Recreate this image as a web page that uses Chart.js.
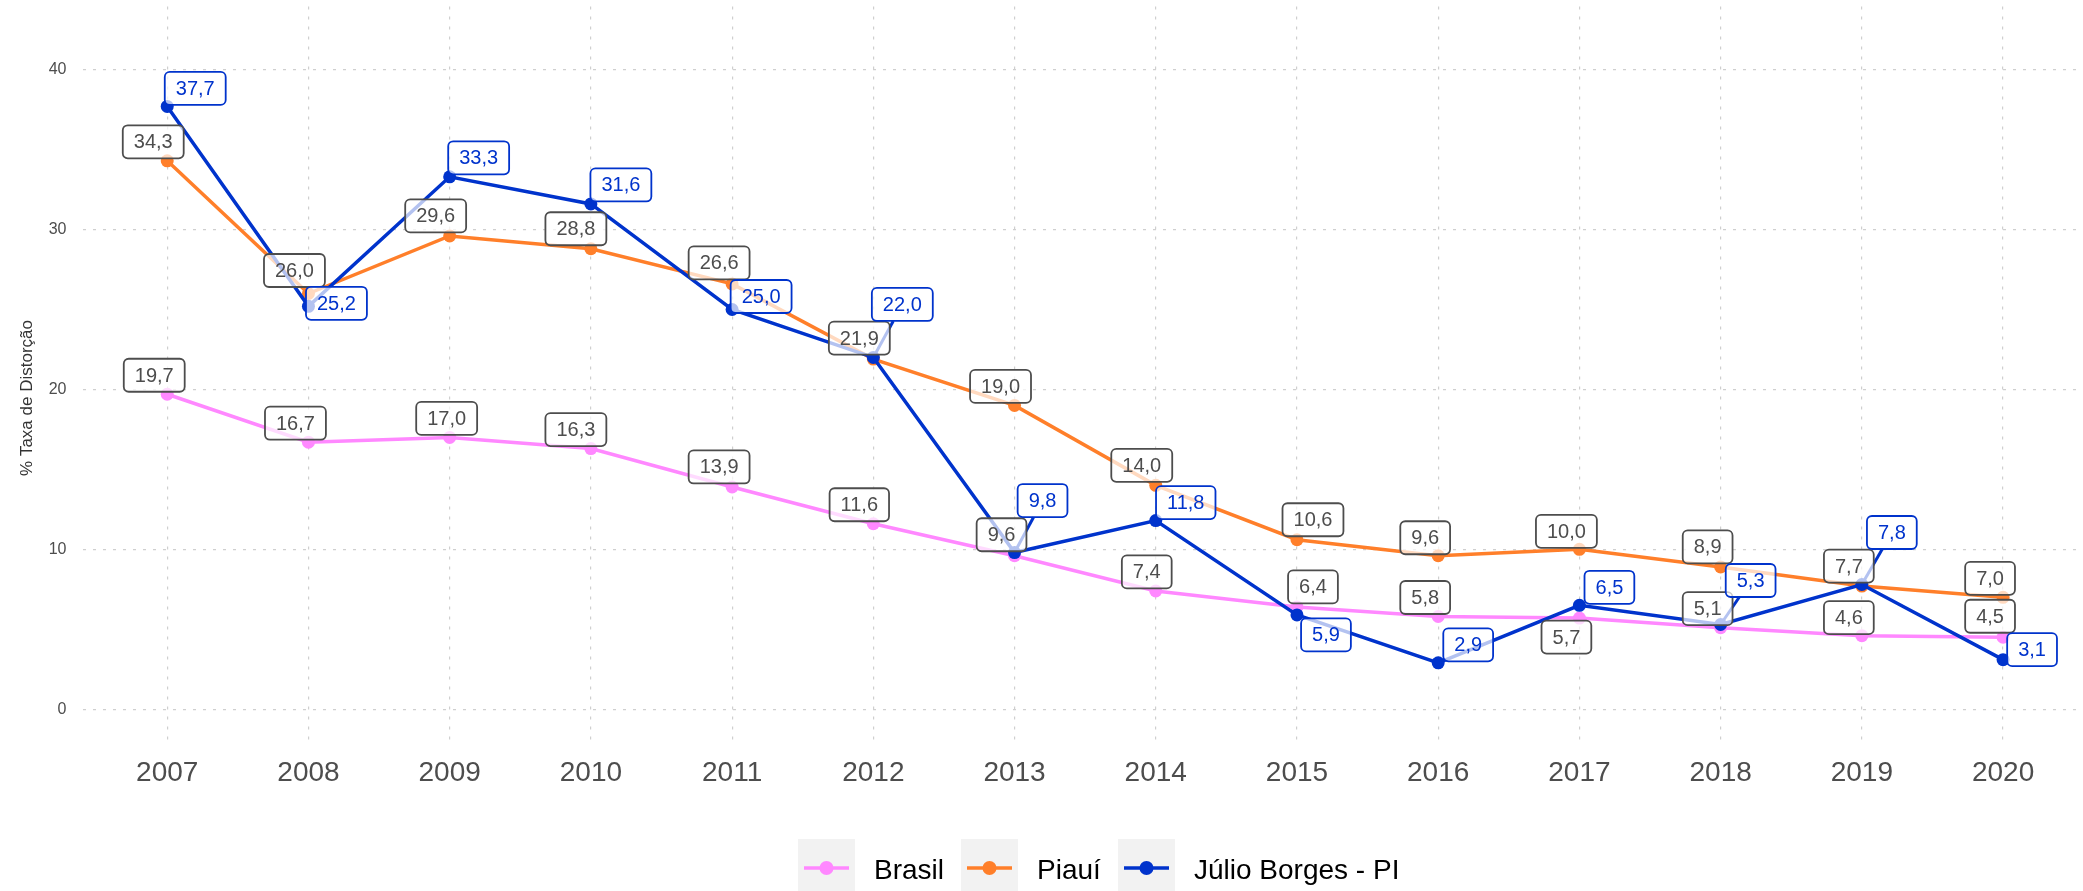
<!DOCTYPE html>
<html>
<head>
<meta charset="utf-8">
<title>Taxa de Distorção Idade-Série</title>
<script src="https://cdn.jsdelivr.net/npm/chart.js@4.4.1/dist/chart.umd.min.js"></script>
<style>
  html, body { margin: 0; padding: 0; background: #fff; }
  #chart { display: block; }
</style>
</head>
<body>
<canvas id="chart" width="2083" height="891"></canvas>
<script>
const years = ['2007', '2008', '2009', '2010', '2011', '2012', '2013',
               '2014', '2015', '2016', '2017', '2018', '2019', '2020'];
const brasil = [19.7, 16.7, 17.0, 16.3, 13.9, 11.6, 9.6, 7.4, 6.4, 5.8, 5.7, 5.1, 4.6, 4.5];
const piaui = [34.3, 26.0, 29.6, 28.8, 26.6, 21.9, 19.0, 14.0, 10.6, 9.6, 10.0, 8.9, 7.7, 7.0];
const julio = [37.7, 25.2, 33.3, 31.6, 25.0, 22.0, 9.8, 11.8, 5.9, 2.9, 6.5, 5.3, 7.8, 3.1];
const yTicks = [0, 10, 20, 30, 40];

// where each value label sits relative to its point (px)
const brasilNudge = [[-13, -19], [-13, -19], [-3, -19], [-15, -19], [-13, -20], [-14, -19], [-13, -21],
                     [-9, -19], [16, -20], [-13, -19], [-13, 19], [-13, -19], [-13, -18], [-13, -21]];
const piauiNudge = [[-14, -19], [-14, -23], [-14, -20], [-15, -20], [-13, -21], [-14, -21], [-14, -19],
                    [-14, -20], [16, -20], [-13, -18], [-13, -18], [-13, -20], [-13, -20], [-13, -19]];
const julioNudge = [[28, -18], [28, -3], [29, -19], [30, -19], [29, -13], [29, -53], [28, -52],
                    [30, -18], [29, 20], [30, -18], [30, -18], [30, -44], [30, -52], [29, -10]];

const PINK = '#FF88FF';
const ORANGE = '#FF7F2A';
const BLUE = '#0033CC';
const GRAY_TEXT = '#4D4D4D';
const FONT = '"Liberation Sans", Arial, Helvetica, sans-serif';

const series = [
  { name: 'Brasil', values: brasil, color: PINK, labelColor: GRAY_TEXT, nudge: brasilNudge, order: 3 },
  { name: 'Piauí', values: piaui, color: ORANGE, labelColor: GRAY_TEXT, nudge: piauiNudge, order: 2 },
  { name: 'Júlio Borges - PI', values: julio, color: BLUE, labelColor: BLUE, nudge: julioNudge, order: 1 }
];

function fmt(v) {
  return v.toFixed(1).replace('.', ',');
}

function roundRect(ctx, x, y, w, h, r) {
  ctx.beginPath();
  ctx.moveTo(x + r, y);
  ctx.lineTo(x + w - r, y);
  ctx.arcTo(x + w, y, x + w, y + r, r);
  ctx.lineTo(x + w, y + h - r);
  ctx.arcTo(x + w, y + h, x + w - r, y + h, r);
  ctx.lineTo(x + r, y + h);
  ctx.arcTo(x, y + h, x, y + h - r, r);
  ctx.lineTo(x, y + r);
  ctx.arcTo(x, y, x + r, y, r);
  ctx.closePath();
}

// no extra room around the scales, the plot fills the canvas edge to edge
function noPadding(scale) {
  scale.paddingTop = 0;
  scale.paddingBottom = 0;
  scale.paddingLeft = 0;
  scale.paddingRight = 0;
}

// boxed value labels with a leader segment when the box sits away from its point
const valueLabels = {
  id: 'valueLabels',
  afterDatasetsDraw(chart) {
    const ctx = chart.ctx;
    ctx.save();
    ctx.font = '20px ' + FONT;
    const boxes = [];
    series.forEach((s, di) => {
      const meta = chart.getDatasetMeta(di);
      meta.data.forEach((pt, i) => {
        const text = fmt(s.values[i]);
        const w = ctx.measureText(text).width + 22;
        const h = 33;
        const cx = pt.x + s.nudge[i][0];
        const cy = pt.y + s.nudge[i][1];
        boxes.push({ s, text, px: pt.x, py: pt.y, cx, cy, w, h });
      });
    });

    // segments first
    boxes.forEach(b => {
      const dx = b.px - b.cx, dy = b.py - b.cy;
      const outX = Math.abs(dx) - b.w / 2, outY = Math.abs(dy) - b.h / 2;
      if (Math.max(outX, outY) < 10) return;
      const t = Math.min(
        dx !== 0 ? (b.w / 2) / Math.abs(dx) : Infinity,
        dy !== 0 ? (b.h / 2) / Math.abs(dy) : Infinity
      );
      ctx.beginPath();
      ctx.moveTo(b.px, b.py);
      ctx.lineTo(b.cx + dx * t, b.cy + dy * t);
      ctx.strokeStyle = b.s.labelColor;
      ctx.lineWidth = 3;
      ctx.stroke();
    });

    boxes.forEach(b => {
      const x = b.cx - b.w / 2, y = b.cy - b.h / 2;
      roundRect(ctx, x, y, b.w, b.h, 5);
      ctx.fillStyle = 'rgba(255,255,255,0.7)';
      ctx.fill();
      ctx.lineWidth = 1.8;
      ctx.strokeStyle = b.s.labelColor;
      ctx.stroke();
      ctx.fillStyle = b.s.labelColor;
      ctx.textAlign = 'center';
      ctx.textBaseline = 'middle';
      ctx.fillText(b.text, b.cx, b.cy + 1);
    });
    ctx.restore();
  }
};

// y axis title and the legend with grey key tiles under the plot
const decorations = {
  id: 'decorations',
  afterDraw(chart) {
    const ctx = chart.ctx;
    ctx.save();
    ctx.translate(27, 398);
    ctx.rotate(-Math.PI / 2);
    ctx.fillStyle = '#333';
    ctx.font = '17px ' + FONT;
    ctx.textAlign = 'center';
    ctx.textBaseline = 'middle';
    ctx.fillText('% Taxa de Distorção', 0, 0);
    ctx.restore();

    const keyX = [798, 961, 1118];
    const keyTop = 839, keySize = 57, midY = 868;
    ctx.save();
    series.forEach((s, i) => {
      const x = keyX[i];
      ctx.fillStyle = '#F2F2F2';
      ctx.fillRect(x, keyTop, keySize, keySize);
      ctx.beginPath();
      ctx.moveTo(x + 6, midY);
      ctx.lineTo(x + keySize - 6, midY);
      ctx.strokeStyle = s.color;
      ctx.lineWidth = 3.5;
      ctx.stroke();
      ctx.beginPath();
      ctx.arc(x + keySize / 2, midY, 7, 0, Math.PI * 2);
      ctx.fillStyle = s.color;
      ctx.fill();
      ctx.fillStyle = '#000';
      ctx.font = '28px ' + FONT;
      ctx.textAlign = 'left';
      ctx.textBaseline = 'middle';
      ctx.fillText(s.name, x + keySize + 19, midY + 3);
    });
    ctx.restore();
  }
};

const datasets = series.map(s => ({
  label: s.name,
  data: s.values.map((v, i) => ({ x: i, y: v })),
  borderColor: s.color,
  backgroundColor: s.color,
  borderWidth: 3.5,
  pointRadius: 6.5,
  pointBorderWidth: 0,
  pointBackgroundColor: s.color,
  tension: 0,
  order: s.order
}));

const gridStyle = { color: '#CFCFCF', lineWidth: 1.2, drawTicks: false, tickLength: 0 };

new Chart(document.getElementById('chart'), {
  type: 'line',
  data: { datasets },
  options: {
    responsive: false,
    animation: false,
    layout: { padding: 0 },
    plugins: {
      legend: { display: false },
      tooltip: { enabled: false }
    },
    scales: {
      x: {
        type: 'linear',
        min: -0.6,
        max: 13.52,
        afterBuildTicks: scale => { scale.ticks = years.map((_, i) => ({ value: i })); },
        afterFit: scale => { scale.height = 149; noPadding(scale); },
        ticks: {
          callback: v => years[v],
          autoSkip: false,
          maxRotation: 0,
          padding: 14,
          color: GRAY_TEXT,
          font: { family: FONT, size: 28 }
        },
        grid: gridStyle,
        border: { display: false, dash: [3, 7] }
      },
      y: {
        min: -2.05,
        max: 43.95,
        afterBuildTicks: scale => { scale.ticks = yTicks.map(v => ({ value: v })); },
        afterFit: scale => { scale.width = 82.5; noPadding(scale); },
        ticks: {
          padding: 16,
          color: GRAY_TEXT,
          font: { family: FONT, size: 16 }
        },
        grid: gridStyle,
        border: { display: false, dash: [3, 7] }
      }
    }
  },
  plugins: [valueLabels, decorations]
});
</script>
</body>
</html>
